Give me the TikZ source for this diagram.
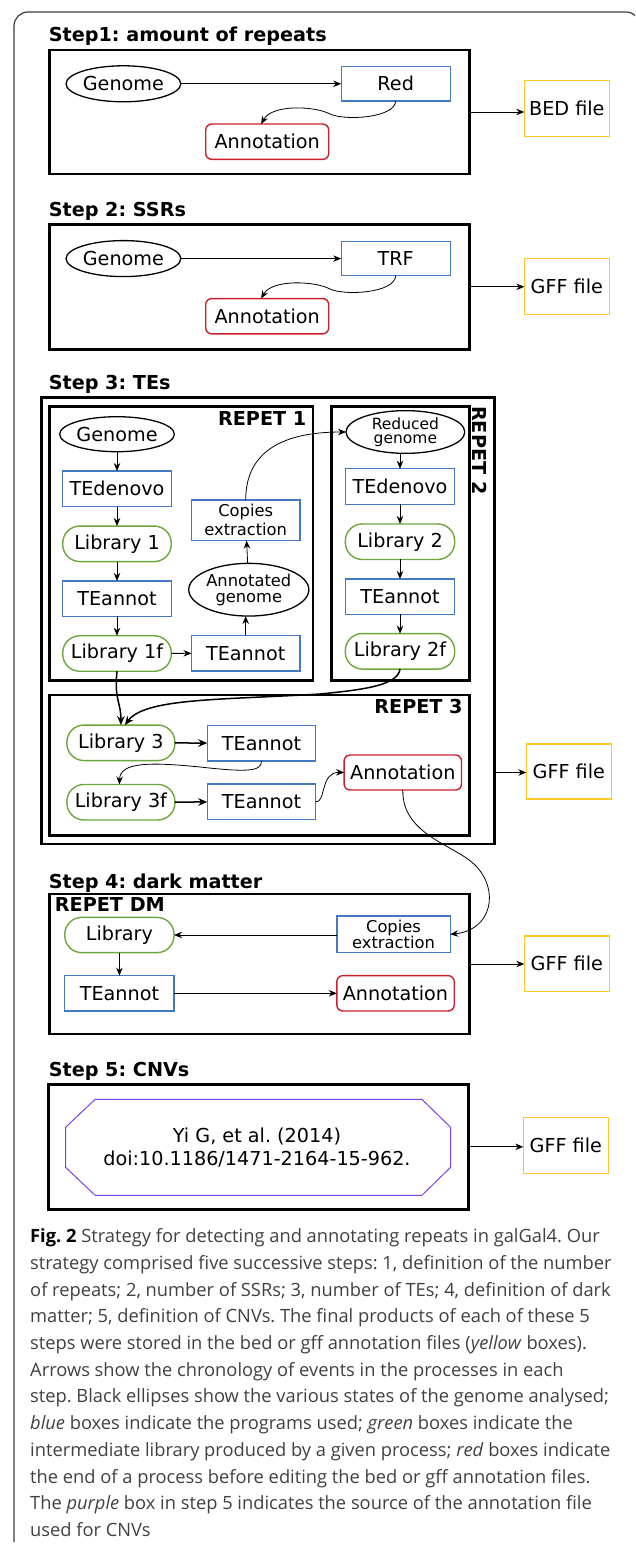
\documentclass[tikz,border=0pt]{standalone}
\usepackage{fontspec}
\setmainfont{DejaVu Sans}
\newfontfamily\capfont{Open Sans}
\usetikzlibrary{arrows.meta,shapes.geometric,calc}
\definecolor{blueC}{RGB}{66,120,196}
\definecolor{greenC}{RGB}{106,168,60}
\definecolor{redC}{RGB}{204,31,42}
\definecolor{yellowC}{RGB}{255,200,40}
\definecolor{purpleC}{RGB}{128,64,240}
\definecolor{frameC}{RGB}{60,60,60}
\newcommand\mynf{\fontsize{19.2}{22}\selectfont}
\frenchspacing
\begin{document}
\begin{tikzpicture}[x=1pt,y=-1pt,
  stepbox/.style={draw, line width=2.8pt, inner sep=0, outer sep=0},
  bluebox/.style={draw=blueC, line width=1.4pt, minimum width=108.5pt, minimum height=35.5pt, inner sep=0, outer sep=0, font=\mynf, align=center},
  greenbox/.style={draw=greenC, line width=1.4pt, rounded corners=17pt, minimum width=108.5pt, minimum height=35.5pt, inner sep=0, outer sep=0, font=\mynf, align=center},
  redbox/.style={draw=redC, line width=1.4pt, rounded corners=6pt, minimum width=117.4pt, minimum height=35.3pt, inner sep=0, outer sep=0, font=\mynf, align=center},
  ell/.style={draw, ellipse, line width=1.3pt, inner sep=0, outer sep=0, font=\mynf, align=center},
  filebox/.style={draw=yellowC, line width=1.4pt, minimum width=85pt, minimum height=56pt, inner sep=0, outer sep=0, font=\mynf},
  arr/.style={-{Stealth[length=8pt,width=6.5pt]}, line width=0.8pt},
  tarr/.style={-{Stealth[length=9pt,width=7.5pt]}, line width=1.5pt},
  title/.style={anchor=base west, font=\bfseries\fontsize{19.2}{22}\selectfont, inner sep=0},
  capline/.style={anchor=base west, inner sep=0, font=\capfont\fontsize{18.3}{20}\selectfont, text=black!75},
]
\useasboundingbox (0,0) rectangle (635,1546);
\begin{scope}
\clip (0,0) rectangle (635,1546);
\draw[line width=1.2pt, draw=frameC, rounded corners=14pt] (14,1542) -- (14,12) -- (640,12) -- (640,80);
\end{scope}

% ---------- Step 1 ----------
\node[title] (t1) at (48.6,41.7) {Step1: amount of repeats};
\node[stepbox, minimum width=420.2pt, minimum height=124pt] (s1) at (259.5,112) {};
\node[ell, minimum width=109pt, minimum height=36pt] (g1) at (123.4,83.8) {Genome};
\node[bluebox, minimum width=109pt, minimum height=34.3pt] (red) at (395.7,83.8) {Red};
\node[redbox, minimum width=123pt] (a1) at (267.2,141.7) {Annotation};
\node[filebox] (bed) at (566.8,108.7) {BED file};
\draw[arr] (g1) -- (red);
\draw[arr] (red.south) .. controls (395,118) and (345,121) .. (330,114) .. controls (315,106) and (272,104) .. ($(a1.north)+(-6,0)$);
\draw[arr] (s1.east) -- (s1.east -| bed.west);

% ---------- Step 2 ----------
\node[title] (t2) at (48.6,216.7) {Step 2: SSRs};
\node[stepbox, minimum width=420.2pt, minimum height=125pt] (s2) at (259.5,286.8) {};
\node[ell, minimum width=109pt, minimum height=36pt] (g2) at (123.4,258.6) {Genome};
\node[bluebox, minimum width=109pt, minimum height=34.3pt] (trf) at (395.7,258.6) {TRF};
\node[redbox, minimum width=123pt] (a2) at (267.2,316.2) {Annotation};
\node[filebox] (gff2) at (566.8,286.3) {GFF file};
\draw[arr] (g2) -- (trf);
\draw[arr] (trf.south) .. controls (395,293) and (345,296) .. (330,289) .. controls (315,281) and (272,279) .. ($(a2.north)+(-6,0)$);
\draw[arr] (s2.east) -- (s2.east -| gff2.west);

% ---------- Step 3 ----------
\node[title] (t3) at (48.6,389.3) {Step 3: TEs};
\node[stepbox, minimum width=453.4pt, minimum height=446.3pt] (s3) at (268,620.85) {};
\node[stepbox, minimum width=263.2pt, minimum height=274pt] (r1) at (181.4,543.7) {};
\node[stepbox, minimum width=138.4pt, minimum height=274pt] (r2) at (400.4,543.7) {};
\node[stepbox, minimum width=419.8pt, minimum height=140.7pt] (r3) at (259.7,765.35) {};
\node[anchor=base east, inner sep=0, font=\bfseries\fontsize{19.2}{22}\selectfont] (l1) at (306.5,425) {REPET 1};
\node[rotate=-90, anchor=west, inner sep=0, font=\bfseries\fontsize{19.2}{22}\selectfont] (l2) at (479.8,406) {REPET 2};
\node[anchor=base east, inner sep=0, font=\bfseries\fontsize{19.2}{22}\selectfont] (l3) at (462.8,713.3) {REPET 3};

% REPET 1
\node[ell, minimum width=108.5pt, minimum height=35pt] (g3) at (117,434.2) {Genome};
\node[bluebox] (td1) at (117,488.8) {TEdenovo};
\node[greenbox] (lib1) at (117,543.8) {Library 1};
\node[bluebox] (ta1) at (117,598.7) {TEannot};
\node[greenbox] (lib1f) at (117,653.5) {Library 1f};
\node[bluebox] (ta1b) at (245.7,653.2) {TEannot};
\node[ell, minimum width=117pt, minimum height=52.7pt, font=\fontsize{16.3}{15.7}\selectfont] (ag) at (248.8,589.7) {Annotated\\genome};
\node[bluebox, minimum height=40.7pt, font=\fontsize{16.3}{19}\selectfont] (ce1) at (245.7,520.3) {Copies\\extraction};
\draw[arr] (g3) -- (td1);
\draw[arr] (td1) -- (lib1);
\draw[arr] (lib1) -- (ta1);
\draw[arr] (ta1) -- (lib1f);
\draw[arr] (lib1f) -- (ta1b);
\draw[arr] (ta1b) -- (ta1b.north |- ag.south);
\draw[arr] (ag) -- (ce1);

% REPET 2
\node[ell, minimum width=118.8pt, minimum height=42.7pt, font=\fontsize{15.5}{14.5}\selectfont] (rg) at (405.4,432) {Reduced\\genome};
\node[bluebox, minimum width=109.4pt] (td2) at (400,486.5) {TEdenovo};
\node[greenbox, minimum width=109.4pt] (lib2) at (400,541.7) {Library 2};
\node[bluebox, minimum width=109.4pt] (ta2) at (400,596.7) {TEannot};
\node[greenbox, minimum width=109.4pt] (lib2f) at (400,651.3) {Library 2f};
\draw[arr] (ce1.north) .. controls (245.7,450) and (285,432) .. (rg.west);
\draw[arr] (td2.north |- rg.south) -- (td2.north);
\draw[arr] (td2) -- (lib2);
\draw[arr] (lib2) -- (ta2);
\draw[arr] (ta2) -- (lib2f);

% REPET 3
\node[greenbox, minimum width=108pt] (lib3) at (120.9,742.8) {Library 3};
\node[bluebox] (ta3) at (261.5,743.2) {TEannot};
\node[greenbox, minimum width=108pt] (lib3f) at (120.9,802.2) {Library 3f};
\node[bluebox] (ta3b) at (261.5,801.8) {TEannot};
\node[redbox, minimum height=35pt] (an3) at (402.8,772.5) {Annotation};
\node[filebox, minimum height=55pt] (gff3) at (568.8,771.5) {GFF file};
\draw[tarr] (lib1f.south) .. controls (114,700) and (121,702) .. (lib3.north);
\draw[tarr] (lib2f.south) .. controls (398,686) and (360,690) .. (320,694) .. controls (220,700) and (145,698) .. ($(lib3.north)+(4,0)$);
\draw[tarr] (lib3) -- (ta3);
\draw[arr] (ta3.south) .. controls (262,772) and (245,772) .. (200,767) .. controls (150,762) and (120,762) .. ($(lib3f.north)+(-1.5,0)$);
\draw[tarr] (lib3f) -- (ta3b);
\draw[arr] (ta3b.east) .. controls (326,803) and (320,772) .. (an3.west);
\draw[arr] (an3.east -| s3.east) -- (an3.east -| gff3.west);

% ---------- Step 4 ----------
\node[title] (t4) at (48.6,888.3) {Step 4: dark matter};
\node[stepbox, minimum width=420.2pt, minimum height=140pt] (s4) at (259.5,964) {};
\node[anchor=base west, inner sep=0, font=\bfseries\fontsize{19.2}{22}\selectfont] (ldm) at (54.7,911.7) {REPET DM};
\node[greenbox, minimum width=109.3pt, minimum height=35.3pt] (lib4) at (119.4,935) {Library};
\node[bluebox, minimum width=113.4pt, minimum height=36.7pt, font=\fontsize{16.3}{16.7}\selectfont] (ce4) at (393.5,934.3) {Copies\\extraction};
\node[bluebox, minimum width=109.3pt, minimum height=35.3pt] (ta4) at (119.4,993.3) {TEannot};
\node[redbox] (an4) at (395.5,993.3) {Annotation};
\node[filebox, minimum height=55.7pt] (gff4) at (566.8,963.8) {GFF file};
\draw[arr] (an3.south) .. controls (402,835) and (455,845) .. (475,865) .. controls (500,890) and (492,930) .. (ce4.east);
\draw[arr] (ce4.west |- lib4.east) -- (lib4.east);
\draw[arr] (lib4) -- (ta4);
\draw[arr] (ta4) -- (an4);
\draw[arr] (s4.east) -- (s4.east -| gff4.west);

% ---------- Step 5 ----------
\node[title] (t5) at (48.6,1076) {Step 5: CNVs};
\node[stepbox, minimum width=420.2pt, minimum height=125pt] (s5) at (258.7,1146.8) {};
\draw[draw=purpleC, line width=1pt] (65.6,1127.3) -- (95.1,1099.3) -- (421.9,1099.3) -- (450.6,1127.3) -- (450.6,1167.3) -- (421.9,1195.3) -- (95.1,1195.3) -- (65.6,1167.3) -- cycle;
\node[inner sep=0, align=center, font=\fontsize{19.2}{22.6}\selectfont] (cnv) at (257,1147.3) {Yi G, et al. (2014)\\doi:10.1186/1471-2164-15-962.};
\node[filebox, minimum height=55.6pt] (gff5) at (565.8,1145.5) {GFF file};
\draw[arr] (s5.east) -- (s5.east -| gff5.west);

% ---------- Caption ----------
\node[capline] (c1) at (30,1242.7) {\textbf{\color{black}Fig. 2} Strategy for detecting and annotating repeats in galGal4. Our};
\node[capline] (c2) at (30,1269.4) {strategy comprised five successive steps: 1, definition of the number};
\node[capline] (c3) at (30,1296.1) {of repeats; 2, number of SSRs; 3, number of TEs; 4, definition of dark};
\node[capline] (c4) at (30,1322.8) {matter; 5, definition of CNVs. The final products of each of these 5};
\node[capline] (c5) at (30,1349.5) {steps were stored in the bed or gff annotation files (\textit{yellow} boxes).};
\node[capline] (c6) at (30,1376.2) {Arrows show the chronology of events in the processes in each};
\node[capline] (c7) at (30,1402.9) {step. Black ellipses show the various states of the genome analysed;};
\node[capline] (c8) at (30,1429.6) {\textit{blue} boxes indicate the programs used; \textit{green} boxes indicate the};
\node[capline] (c9) at (30,1456.3) {intermediate library produced by a given process; \textit{red} boxes indicate};
\node[capline] (c10) at (30,1483.0) {the end of a process before editing the bed or gff annotation files.};
\node[capline] (c11) at (30,1509.7) {The \textit{purple} box in step 5 indicates the source of the annotation file};
\node[capline] (c12) at (30,1536.4) {used for CNVs};
\end{tikzpicture}
\end{document}
